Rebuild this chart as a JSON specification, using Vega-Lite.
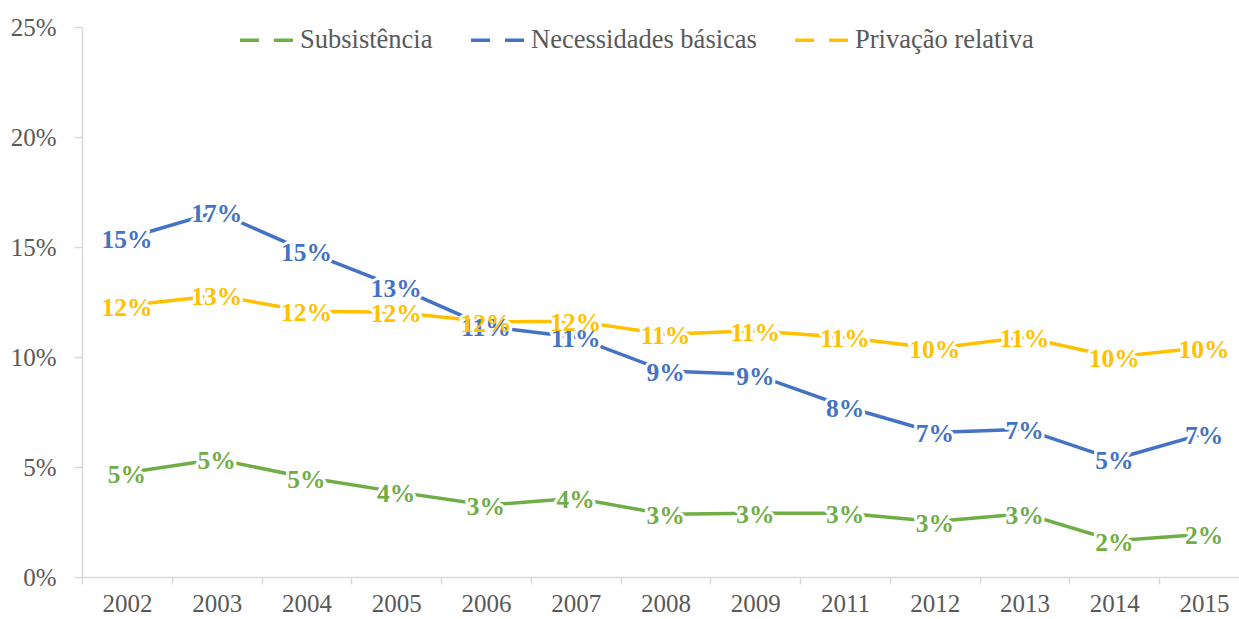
{
  "$schema": "https://vega.github.io/schema/vega-lite/v6.json",
  "autosize": "none",
  "width": 1167,
  "height": 550,
  "padding": {"left": 82, "top": 27, "right": 0, "bottom": 42},
  "background": "white",
  "config": {"view": {"stroke": null}, "font": "Liberation Serif"},
  "data": {
    "values": [
      {"year": "2002", "serie": "Subsistência", "value": 0.0474},
      {"year": "2003", "serie": "Subsistência", "value": 0.0535},
      {"year": "2004", "serie": "Subsistência", "value": 0.0452},
      {"year": "2005", "serie": "Subsistência", "value": 0.0387},
      {"year": "2006", "serie": "Subsistência", "value": 0.0327},
      {"year": "2007", "serie": "Subsistência", "value": 0.0358},
      {"year": "2008", "serie": "Subsistência", "value": 0.0285},
      {"year": "2009", "serie": "Subsistência", "value": 0.029},
      {"year": "2011", "serie": "Subsistência", "value": 0.029},
      {"year": "2012", "serie": "Subsistência", "value": 0.0252},
      {"year": "2013", "serie": "Subsistência", "value": 0.0288},
      {"year": "2014", "serie": "Subsistência", "value": 0.0165},
      {"year": "2015", "serie": "Subsistência", "value": 0.0194},
      {"year": "2002", "serie": "Necessidades básicas", "value": 0.154},
      {"year": "2003", "serie": "Necessidades básicas", "value": 0.166},
      {"year": "2004", "serie": "Necessidades básicas", "value": 0.148},
      {"year": "2005", "serie": "Necessidades básicas", "value": 0.132},
      {"year": "2006", "serie": "Necessidades básicas", "value": 0.114},
      {"year": "2007", "serie": "Necessidades básicas", "value": 0.109},
      {"year": "2008", "serie": "Necessidades básicas", "value": 0.0936},
      {"year": "2009", "serie": "Necessidades básicas", "value": 0.092},
      {"year": "2011", "serie": "Necessidades básicas", "value": 0.0775},
      {"year": "2012", "serie": "Necessidades básicas", "value": 0.0657},
      {"year": "2013", "serie": "Necessidades básicas", "value": 0.0672},
      {"year": "2014", "serie": "Necessidades básicas", "value": 0.0535},
      {"year": "2015", "serie": "Necessidades básicas", "value": 0.0652},
      {"year": "2002", "serie": "Privação relativa", "value": 0.1234},
      {"year": "2003", "serie": "Privação relativa", "value": 0.128},
      {"year": "2004", "serie": "Privação relativa", "value": 0.1208},
      {"year": "2005", "serie": "Privação relativa", "value": 0.1203},
      {"year": "2006", "serie": "Privação relativa", "value": 0.116},
      {"year": "2007", "serie": "Privação relativa", "value": 0.1163},
      {"year": "2008", "serie": "Privação relativa", "value": 0.1103},
      {"year": "2009", "serie": "Privação relativa", "value": 0.1119},
      {"year": "2011", "serie": "Privação relativa", "value": 0.1089},
      {"year": "2012", "serie": "Privação relativa", "value": 0.104},
      {"year": "2013", "serie": "Privação relativa", "value": 0.109},
      {"year": "2014", "serie": "Privação relativa", "value": 0.1},
      {"year": "2015", "serie": "Privação relativa", "value": 0.1043}
    ]
  },
  "encoding": {
    "x": {
      "field": "year", "type": "ordinal", "sort": null,
      "scale": {"type": "band", "paddingInner": 0, "paddingOuter": 0},
      "axis": {
        "title": null, "labelAngle": 0, "tickBand": "extent", "grid": false,
        "domainColor": "#d9d9d9", "domainWidth": 1.5, "tickColor": "#d9d9d9", "tickWidth": 1.5, "tickSize": 7,
        "labelPadding": 7, "labelFont": "Liberation Serif", "labelFontSize": 25, "labelColor": "#595959"
      }
    },
    "y": {
      "field": "value", "type": "quantitative",
      "scale": {"domain": [0, 0.25]},
      "axis": {
        "title": null, "format": ".0%", "values": [0, 0.05, 0.1, 0.15, 0.2, 0.25], "grid": false,
        "domainColor": "#d9d9d9", "domainWidth": 1.5, "tickColor": "#d9d9d9", "tickWidth": 1.5, "tickSize": 8,
        "labelPadding": 18, "labelFont": "Liberation Serif", "labelFontSize": 25, "labelColor": "#595959"
      }
    }
  },
  "layer": [
    {
      "mark": {"type": "line", "strokeWidth": 3.5},
      "encoding": {
        "color": {
          "field": "serie", "type": "nominal",
          "scale": {"domain": ["Subsistência", "Necessidades básicas", "Privação relativa"], "range": ["#70AD47", "#4472C4", "#FFC000"]},
          "legend": {
            "orient": "none", "legendX": 156, "legendY": -16, "direction": "horizontal", "title": null,
            "symbolType": "stroke", "symbolSize": 2916, "symbolStrokeWidth": 3.5, "symbolDash": [19, 15],
            "labelFont": "Liberation Serif", "labelFontSize": 26.5, "labelColor": "#595959", "labelOffset": 4,
            "columnPadding": 31, "labelLimit": 500
          }
        }
      }
    },
    {
      "mark": {"type": "text", "fontWeight": "bold", "fontSize": 25.5, "font": "Liberation Serif", "stroke": "white", "strokeWidth": 6, "strokeJoin": "round", "baseline": "middle", "dy": 2},
      "encoding": {
        "text": {"field": "value", "type": "quantitative", "format": ".0%"},
        "color": {"value": "white"},
        "detail": {"field": "serie"}
      }
    },
    {
      "mark": {"type": "text", "fontWeight": "bold", "fontSize": 25.5, "font": "Liberation Serif", "baseline": "middle", "dy": 2},
      "encoding": {
        "text": {"field": "value", "type": "quantitative", "format": ".0%"},
        "color": {
          "field": "serie", "type": "nominal",
          "scale": {"domain": ["Subsistência", "Necessidades básicas", "Privação relativa"], "range": ["#70AD47", "#4472C4", "#FFC000"]},
          "legend": null
        }
      }
    }
  ]
}
